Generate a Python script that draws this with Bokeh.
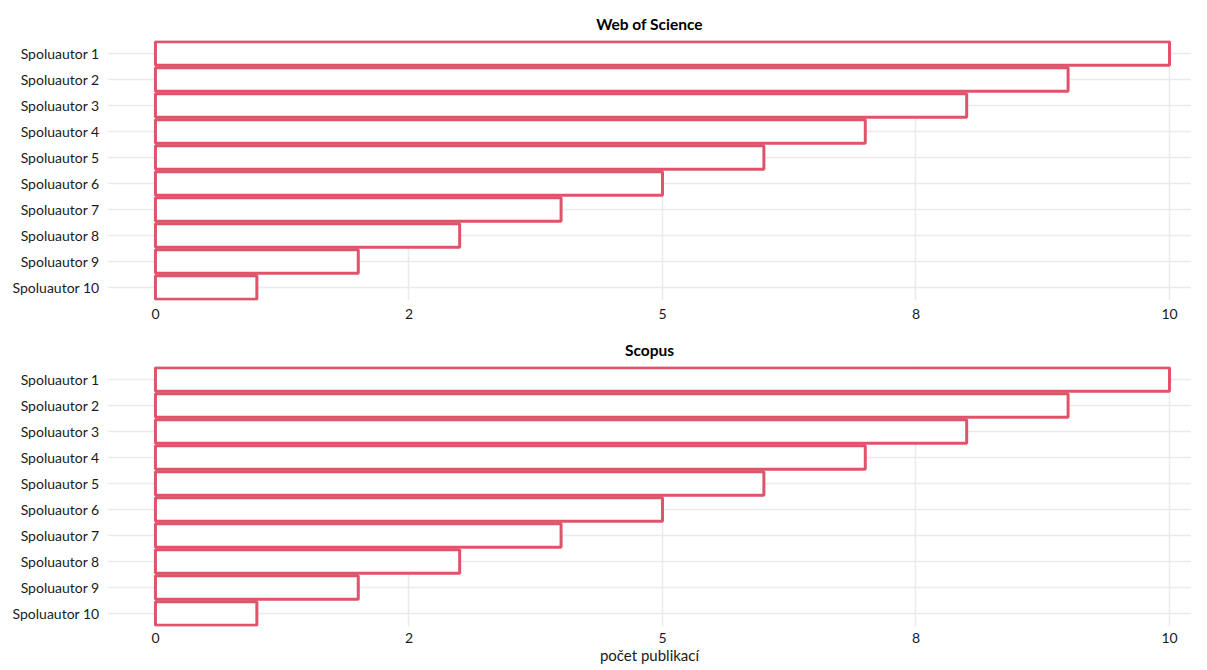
from bokeh.plotting import figure
from bokeh.models import FactorRange, Range1d, FixedTicker, Title
from bokeh.layouts import column
from bokeh.embed import file_html
from bokeh.resources import INLINE

authors = ["Spoluautor 1", "Spoluautor 2", "Spoluautor 3", "Spoluautor 4", "Spoluautor 5",
           "Spoluautor 6", "Spoluautor 7", "Spoluautor 8", "Spoluautor 9", "Spoluautor 10"]
wos_counts = [10, 9, 8, 7, 6, 5, 4, 3, 2, 1]
scopus_counts = [10, 9, 8, 7, 6, 5, 4, 3, 2, 1]
panel_titles = ["Web of Science", "Scopus"]
x_ticks = [0, 2.5, 5, 7.5, 10]
x_tick_labels = ["0", "2", "5", "8", "10"]
x_label = "počet publikací"

FONT = "Lato"
BAR_COLOR = "#DF536B"
GRID = "#EBEBEB"


def make_panel(title, counts, height, top, bottom, show_xlabel):
    p = figure(width=1191, height=height, output_backend="svg", toolbar_location=None,
               y_range=FactorRange(factors=list(reversed(authors)), range_padding=0),
               x_range=Range1d(-0.473, 10.217),
               min_border_left=107, min_border_right=0,
               min_border_top=top, min_border_bottom=bottom)
    p.title = Title(text=title, align="center", text_font=FONT, text_font_size="15.5px",
                    text_font_style="bold", text_color="#000000", offset=0, standoff=16)
    p.hbar(y=authors, left=0, right=counts, height=0.9, fill_color="white",
           line_color=BAR_COLOR, line_width=3)
    p.outline_line_color = None
    p.background_fill_color = "white"
    for ax in (p.xaxis[0], p.yaxis[0]):
        ax.axis_line_color = None
        ax.major_tick_line_color = None
        ax.minor_tick_line_color = None
        ax.major_tick_out = 0
        ax.major_tick_in = 0
        ax.major_label_text_font = FONT
        ax.major_label_text_font_size = "14px"
        ax.major_label_text_color = "#1a1a1a"
    p.xaxis.ticker = FixedTicker(ticks=x_ticks)
    p.xaxis.major_label_overrides = {t: l for t, l in zip(x_ticks, x_tick_labels)}
    p.xaxis.major_label_standoff = 6 if show_xlabel else 8
    p.yaxis.major_label_standoff = 8
    p.xgrid.ticker = FixedTicker(ticks=x_ticks)
    p.xgrid.grid_line_color = GRID
    p.xgrid.grid_line_width = 1.5
    p.ygrid.grid_line_color = GRID
    p.ygrid.grid_line_width = 1.5
    if show_xlabel:
        p.xaxis.axis_label = x_label
        p.xaxis.axis_label_text_font = FONT
        p.xaxis.axis_label_text_font_size = "15px"
        p.xaxis.axis_label_text_font_style = "normal"
        p.xaxis.axis_label_standoff = 0
        p.xaxis.axis_label_text_color = "#1a1a1a"
    return p


p1 = make_panel(panel_titles[0], wos_counts, 326, 40, 26, False)
p2 = make_panel(panel_titles[1], scopus_counts, 342, 40, 42, True)
layout = column(p1, p2, spacing=0)

open("out.html", "w").write(file_html(layout, INLINE))
